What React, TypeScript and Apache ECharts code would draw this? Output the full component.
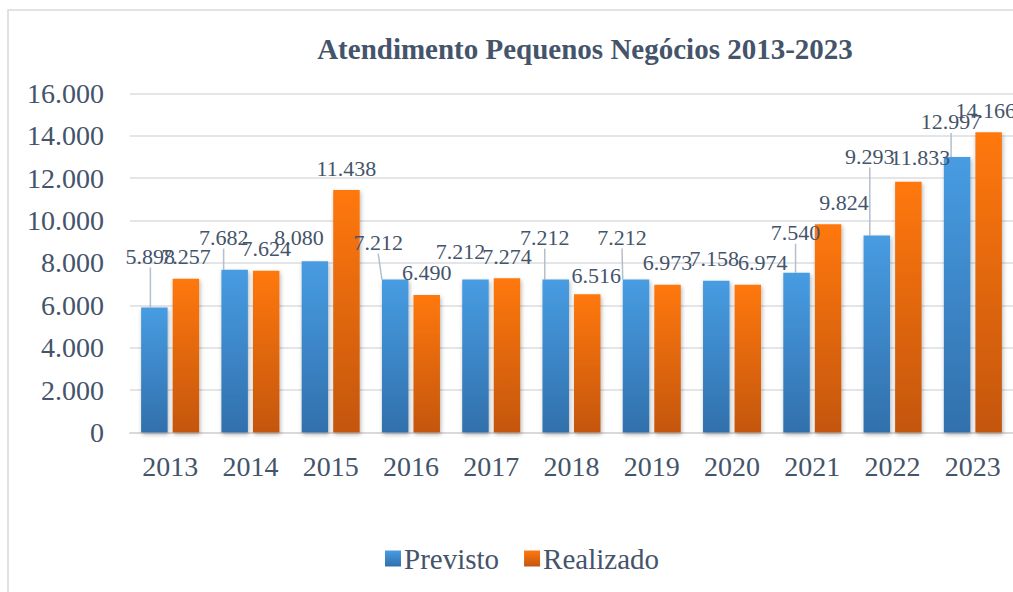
import React, { useEffect, useRef } from "react";
import * as echarts from "echarts";

const years = ["2013", "2014", "2015", "2016", "2017", "2018", "2019", "2020", "2021", "2022", "2023"];
const previsto = [5898, 7682, 8080, 7212, 7212, 7212, 7212, 7158, 7540, 9293, 12997];
const realizado = [7257, 7624, 11438, 6490, 7274, 6516, 6973, 6974, 9824, 11833, 14166];
const seriesNames = ["Previsto", "Realizado"];
const yTicks = { min: 0, max: 16000, interval: 2000 };

// label displacement (Excel-like callouts), [dx, dy] per category
const previstoShift = [[-4, -29], [-11, -10], [-16, -2], [-17, -15], [-15, -6], [-11, -20], [-14, -20], [-2, 0], [-1, -18], [-7, -57], [-6, -13]];
const realizadoShift = [[0, 0], [0, 0], [0, 0], [0, 0], [0, 0], [9, 3], [0, 0], [15, 0], [16, 0], [12, -2], [-3, 0]];
const previstoLeader = [true, true, false, true, false, true, true, false, true, true, true];

const fmt = (v: number) => String(v).replace(/\B(?=(\d{3})+(?!\d))/g, ".");

const TEXT = "#44546a";
const FONT = "'Liberation Serif', 'Times New Roman', serif";

export default function App() {
  const ref = useRef<HTMLDivElement>(null);
  useEffect(() => {
    if (!ref.current) return;
    const chart = echarts.init(ref.current, undefined, { renderer: "svg" });
    const blue = new echarts.graphic.LinearGradient(0, 0, 0, 1, [
      { offset: 0, color: "#479ce2" },
      { offset: 1, color: "#3170ac" },
    ]);
    const orange = new echarts.graphic.LinearGradient(0, 0, 0, 1, [
      { offset: 0, color: "#ff7810" },
      { offset: 1, color: "#c4560f" },
    ]);
    const labelStyle = {
      show: true,
      position: "top" as const,
      distance: 11,
      color: TEXT,
      fontFamily: FONT,
      fontSize: 22,
      formatter: (p: any) => fmt(p.value),
    };
    const shadow = {
      shadowColor: "rgba(0,0,0,0.3)",
      shadowBlur: 4,
      shadowOffsetX: 1,
      shadowOffsetY: 2,
    };
    chart.setOption({
      animation: false,
      backgroundColor: "#ffffff",
      graphic: [
        {
          type: "rect",
          shape: { x: 8, y: 10, width: 1200, height: 800 },
          style: { fill: "none", stroke: "#d9d9d9", lineWidth: 1.5 },
          silent: true,
          z: -10,
        },
      ],
      title: {
        text: "Atendimento Pequenos Negócios 2013-2023",
        left: 580,
        textAlign: "center",
        top: 29,
        textStyle: { fontFamily: FONT, fontWeight: "bold", fontSize: 29, color: TEXT },
      },
      legend: {
        data: seriesNames,
        left: 380,
        top: 539,
        icon: "rect",
        itemWidth: 16,
        itemHeight: 16,
        itemGap: 25,
        textStyle: { fontFamily: FONT, fontSize: 29, color: TEXT, padding: [0, 0, 0, -2] },
      },
      grid: { left: 130, right: -4, top: 93.3, bottom: 159.5 },
      xAxis: {
        type: "category",
        data: years,
        axisLine: { lineStyle: { color: "#d9d9d9", width: 2 } },
        axisTick: { show: false },
        axisLabel: { fontFamily: FONT, fontSize: 28, color: TEXT, margin: 20 },
      },
      yAxis: {
        type: "value",
        min: yTicks.min,
        max: yTicks.max,
        interval: yTicks.interval,
        axisLine: { show: false },
        axisTick: { show: false },
        splitLine: { lineStyle: { color: "#dadde2", width: 1.5 } },
        axisLabel: {
          fontFamily: FONT,
          fontSize: 28,
          color: TEXT,
          margin: 26,
          formatter: (v: number) => fmt(v),
        },
      },
      series: [
        {
          name: seriesNames[0],
          type: "bar",
          barWidth: 26.5,
          barGap: "19%",
          itemStyle: { color: blue, ...shadow },
          label: labelStyle,
          labelLine: { show: false, lineStyle: { color: "#b4bfcc", width: 1.5 } },
          data: previsto.map((v, i) => ({
            value: v,
            labelLine: { show: previstoLeader[i], lineStyle: { color: "#b4bfcc", width: 1.5 } },
          })),
          labelLayout: (p: any) => ({ dx: previstoShift[p.dataIndex][0], dy: previstoShift[p.dataIndex][1] }),
        },
        {
          name: seriesNames[1],
          type: "bar",
          barWidth: 26.5,
          barGap: "19%",
          itemStyle: { color: orange, ...shadow },
          label: labelStyle,
          data: realizado,
          labelLayout: (p: any) => ({ dx: realizadoShift[p.dataIndex][0], dy: realizadoShift[p.dataIndex][1] }),
        },
      ],
    });
    return () => chart.dispose();
  }, []);
  return (
    <div
      ref={ref}
      style={{ position: "fixed", left: 0, top: 0, width: 1013, height: 592, overflow: "hidden" }}
    />
  );
}
